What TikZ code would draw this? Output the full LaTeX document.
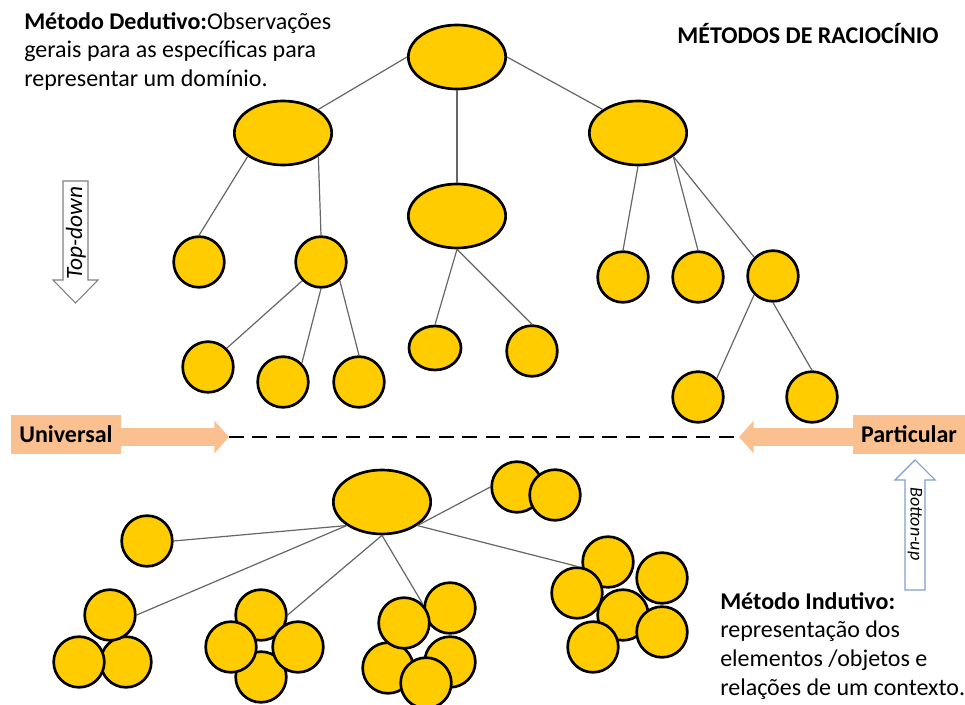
\documentclass[tikz,border=0pt]{standalone}
\usepackage{fontspec}
\setmainfont{Carlito}
\usetikzlibrary{positioning, arrows.meta, shapes.geometric}
\definecolor{gold}{HTML}{FFCC00}
\definecolor{peach}{HTML}{FAC090}
\definecolor{linkgray}{HTML}{666666}
\definecolor{downgray}{HTML}{808080}
\definecolor{upblue}{HTML}{7F9FC8}

\begin{document}
\begin{tikzpicture}[x=0.75pt,y=-0.75pt,
    leaf/.style={circle, draw, fill=gold, line width=2pt, minimum size=38pt, inner sep=0pt},
    hub/.style={ellipse, draw, fill=gold, line width=2pt, minimum width=73pt, minimum height=48pt, inner sep=0pt},
    link/.style={draw=linkgray, line width=0.9pt},
    tag/.style={fill=peach, inner sep=0pt, minimum height=29pt, font=\bfseries\fontsize{18}{21}\selectfont},
    fat/.style={draw=peach, line width=13pt, -{Triangle[length=11pt, width=24pt]}},
    note/.style={anchor=north west, align=left, inner sep=0pt, font=\fontsize{18}{21.5}\selectfont}]
    \useasboundingbox (0,0) rectangle (965,705);

    % metodo dedutivo (arvore de cima)
    \node[hub] (d_0) at (457,57) {};
    \node[hub] (d_1) at (283,133) {};
    \node[hub] (d_2) at (457,216) {};
    \node[hub] (d_3) at (638,133) {};
    \node[leaf] (d_4) at (199,262) {};
    \node[leaf] (d_5) at (321,262) {};
    \node[leaf] (d_6) at (208,367) {};
    \node[leaf] (d_7) at (283,382) {};
    \node[leaf] (d_8) at (359,382) {};
    \node[leaf, ellipse, minimum width=39pt, minimum height=33pt] (d_9) at (435,348) {};
    \node[leaf] (d_10) at (532,351) {};
    \node[leaf] (d_11) at (623,277) {};
    \node[leaf] (d_12) at (698,277) {};
    \node[leaf] (d_13) at (773,276) {};
    \node[leaf] (d_14) at (698,397) {};
    \node[leaf] (d_15) at (812,397) {};

    \path[link]
    (d_0.west) edge (d_1.north east)
    (d_0.south) edge (d_2.north)
    (d_0.east) edge (d_3.north west)
    (d_1.south west) edge (d_4.north)
    (d_1.south east) edge (d_5.north)
    (d_5.south west) edge (d_6.north east)
    (d_5.south) edge (d_7.north east)
    (d_5.south east) edge (d_8.north)
    (d_2.south) edge (d_9.north)
    (d_2.south) edge (d_10.north)
    (d_3.south) edge (d_11.north)
    (d_3.south east) edge (d_12.north)
    (d_3.south east) edge (d_13.north west)
    (d_13.south west) edge (d_14.north east)
    (d_13.south) edge (d_15.north)
    ;

    % metodo indutivo (agrupamentos de baixo)
    \node[hub] (i_0) at (382,502) {};
    \node[leaf] (i_1) at (147,541) {};
    \node[leaf] (i_2) at (126,662) {};
    \node[leaf] (i_3) at (79,662) {};
    \node[leaf] (i_4) at (110,615) {};
    \node[leaf] (i_5) at (261,615) {};
    \node[leaf] (i_6) at (261,677) {};
    \node[leaf] (i_7) at (231,647) {};
    \node[leaf] (i_8) at (298,647) {};
    \node[leaf] (i_9) at (450,608) {};
    \node[leaf] (i_10) at (450,662) {};
    \node[leaf] (i_11) at (388,668) {};
    \node[leaf] (i_12) at (404,623) {};
    \node[leaf] (i_13) at (426,683) {};
    \node[leaf] (i_14) at (517,487) {};
    \node[leaf] (i_15) at (555,495) {};
    \node[leaf] (i_16) at (623,615) {};
    \node[leaf] (i_17) at (608,562) {};
    \node[leaf] (i_18) at (662,578) {};
    \node[leaf] (i_19) at (577,593) {};
    \node[leaf] (i_20) at (662,632) {};
    \node[leaf] (i_21) at (593,647) {};

    \path[link]
    (i_0.south west) edge (i_1.east)
    (i_0.south west) edge (i_4.east)
    (i_0.south) edge (i_5.east)
    (i_0.south) edge (i_12.north east)
    (i_0.south east) edge (i_14.west)
    (i_0.south east) edge (i_19.north)
    ;

    % universal / particular
    \node[tag, minimum width=82.5pt] (uni) at (66,434.5) {Universal};
    \node[tag, minimum width=84pt] (part) at (909,434.5) {Particular};
    \coordinate (u_tip) at (229,437);
    \coordinate (p_tip) at (739,437);
    \draw[line width=2.2pt, dash pattern=on 11pt off 6.5pt] (u_tip) -- (p_tip);
    \draw[fat] (uni.east |- u_tip) -- (u_tip);
    \draw[fat] (part.west |- p_tip) -- (p_tip);

    % setas top-down / bottom-up
    \draw[draw=downgray, fill=white, line width=0.8pt] (63,181) -- (88,181) -- (88,280) -- (98,280) -- (75.5,303) -- (53,280) -- (63,280) -- cycle;
    \node[rotate=90, font=\itshape\fontsize{17.5}{20}\selectfont] (topdown) at (76,233) {Top-down};
    \draw[draw=upblue, fill=white, line width=0.8pt] (905,590) -- (925,590) -- (925,480) -- (935,480) -- (915,460) -- (895,480) -- (905,480) -- cycle;
    \node[rotate=-90, font=\itshape\fontsize{13.5}{16}\selectfont] (bottomup) at (915,524) {Botton-up};

    % textos
    \node[note] (dedutivo) at (24,12) {\textbf{Método Dedutivo:}Observações\\gerais para as específicas para\\representar um domínio.};
    \node[font=\bfseries\fontsize{18}{21}\selectfont] (titulo) at (808,34) {MÉTODOS DE RACIOCÍNIO};
    \node[note] (indutivo) at (720,592) {\textbf{Método Indutivo:}\\representação dos\\elementos /objetos e\\relações de um contexto.};
\end{tikzpicture}
\end{document}
